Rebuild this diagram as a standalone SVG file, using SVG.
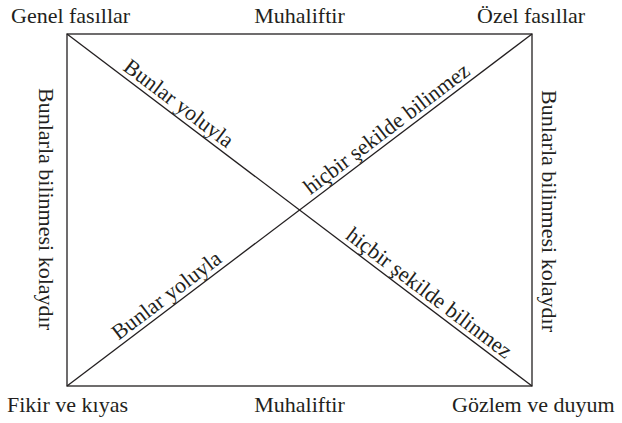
<svg xmlns="http://www.w3.org/2000/svg" width="622" height="423" viewBox="0 0 622 423">
<style>
text{font-family:'Liberation Serif','DejaVu Serif',serif;font-size:22px;fill:#231f20}
.c{text-anchor:middle}
.ln{stroke:#231f20;stroke-width:1.3;fill:none}
</style>
<rect width="622" height="423" fill="#fff"/>
<g id="frame"><rect class="ln" x="67" y="34" width="465" height="352"/></g>
<g id="connectors">
<line class="ln" x1="67" y1="34" x2="532" y2="386"/>
<line class="ln" x1="67" y1="386" x2="532" y2="34"/>
</g>
<g id="genel"><text x="11" y="23">Genel fasıllar</text></g>
<g id="muh-top"><text class="c" x="299.5" y="23">Muhaliftir</text></g>
<g id="ozel"><text x="477" y="23">Özel fasıllar</text></g>
<g id="fikir"><text x="7" y="412">Fikir ve kıyas</text></g>
<g id="muh-bot"><text class="c" x="299.5" y="412">Muhaliftir</text></g>
<g id="gozlem"><text x="452" y="412">Gözlem ve duyum</text></g>
<g id="left"><text class="c" transform="translate(39,209) rotate(90)">Bunlarla bilinmesi kolaydır</text></g>
<g id="right"><text class="c" transform="translate(541.5,211) rotate(90)">Bunlarla bilinmesi kolaydır</text></g>
<g id="lbl1"><text class="c" transform="translate(171.4,113.1) rotate(37.13)" y="-5">Bunlar yoluyla</text></g>
<g id="lbl2"><text class="c" transform="translate(393.9,138.5) rotate(-37.13)" y="-5">hiçbir şekilde bilinmez</text></g>
<g id="lbl3"><text class="c" transform="translate(173.8,305.1) rotate(-37.13)" y="-5">Bunlar yoluyla</text></g>
<g id="lbl4"><text class="c" transform="translate(421.8,302.6) rotate(37.13)" y="-5">hiçbir şekilde bilinmez</text></g>
</svg>
